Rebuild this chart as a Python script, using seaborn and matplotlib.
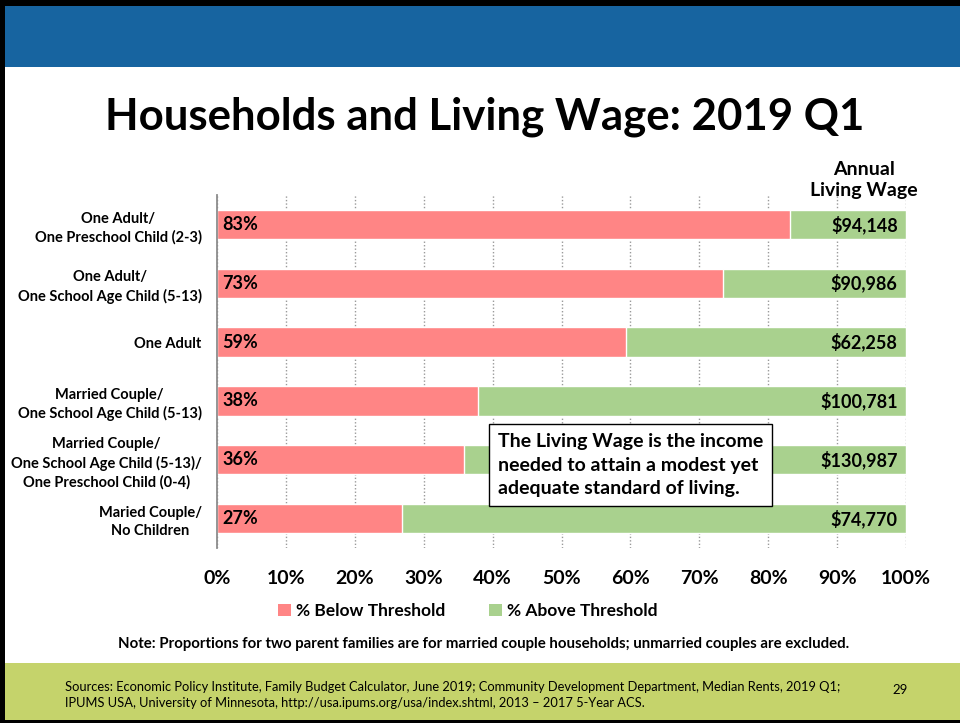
import numpy as np
import pandas as pd
import seaborn as sns
import matplotlib.pyplot as plt
from matplotlib.patches import Rectangle, Patch

# data
categories = [
    "One Adult/\nOne Preschool Child (2-3)",
    "One Adult/\nOne School Age Child (5-13)",
    "One Adult",
    "Married Couple/\nOne School Age Child (5-13)",
    "Married Couple/\nOne School Age Child (5-13)/\nOne Preschool Child (0-4)",
    "Maried Couple/\nNo Children",
]
below_pct = [83.2, 73.4, 59.3, 37.9, 35.8, 26.8]
below_labels = ["83%", "73%", "59%", "38%", "36%", "27%"]
total_pct = [100, 100, 100, 100, 100, 100]
living_wage = ["$94,148", "$90,986", "$62,258", "$100,781", "$130,987", "$74,770"]
x_ticks = [0, 10, 20, 30, 40, 50, 60, 70, 80, 90, 100]

RED = "#FF8585"
GREEN = "#A9D18E"
BLUE = "#1764A0"
OLIVE = "#C5D36B"

df = pd.DataFrame({"category": categories, "below": below_pct, "total": total_pct})

sns.set_theme(style="white")
plt.rcParams["font.family"] = ["Lato", "DejaVu Sans"]
plt.rcParams["font.weight"] = "bold"
plt.rcParams["text.color"] = "black"
plt.rcParams["xtick.color"] = "black"
plt.rcParams["ytick.color"] = "black"

fig = plt.figure(figsize=(9.6, 7.23), dpi=100)
W, H = 960, 723

# slide frame, header band and footer band
fig.patches.append(Rectangle((0, 1 - 67 / H), 1, 61 / H, transform=fig.transFigure,
                             facecolor=BLUE, edgecolor="none", zorder=0))
fig.patches.append(Rectangle((0, 3 / H), 1, 57 / H, transform=fig.transFigure,
                             facecolor=OLIVE, edgecolor="none", zorder=0))
fig.patches.append(Rectangle((0, 1 - 6 / H), 1, 6 / H, transform=fig.transFigure,
                             facecolor="black", edgecolor="none", zorder=1))
fig.patches.append(Rectangle((0, 0), 5 / W, 1, transform=fig.transFigure,
                             facecolor="black", edgecolor="none", zorder=1))
fig.patches.append(Rectangle((0, 0), 1, 3 / H, transform=fig.transFigure,
                             facecolor="black", edgecolor="none", zorder=1))

ax = fig.add_axes([217 / W, 1 - 548 / H, 689 / W, 353 / H])

sns.barplot(data=df, x="total", y="category", color=GREEN, saturation=1,
            width=0.5, errorbar=None, orient="h", ax=ax, zorder=2)
sns.barplot(data=df, x="below", y="category", color=RED, saturation=1,
            width=0.5, errorbar=None, orient="h", ax=ax, zorder=3)

ax.set_xlim(0, 100)
ax.set_xticks(x_ticks)
ax.set_xticklabels([f"{t}%" for t in x_ticks], fontsize=14, fontweight="bold")
ax.set_xlabel("")
ax.set_ylabel("")
for lab in ax.get_yticklabels():
    lab.set_multialignment("center")
    lab.set_fontsize(10.5)
    lab.set_fontweight("bold")
    lab.set_linespacing(1.35)
ax.tick_params(axis="x", length=0, pad=16, colors="black")
ax.tick_params(axis="y", length=0, pad=11, colors="black")

ax.set_axisbelow(True)
ax.xaxis.grid(True, linestyle=(0, (1, 1.5)), color="#9a9a9a", linewidth=1.0, zorder=0)
for s in ["top", "right", "bottom"]:
    ax.spines[s].set_visible(False)
ax.spines["left"].set_color("#8c8c8c")
ax.spines["left"].set_linewidth(1.3)
ax.spines["left"].set_zorder(4)

for i in range(len(categories)):
    ax.text(0.8, i, below_labels[i], va="center", ha="left", fontsize=13,
            fontweight="bold", color="black", zorder=5)
    ax.text(98.8, i, living_wage[i], va="center", ha="right", fontsize=13,
            fontweight="bold", color="black", zorder=5)

# title and annotations
fig.text(485 / W, 1 - 117 / H, "Households and Living Wage: 2019 Q1",
         ha="center", va="center", fontsize=31.5, fontweight="bold")
fig.text(864 / W, 1 - 180 / H, "Annual\nLiving Wage", ha="center", va="center",
         fontsize=14, fontweight="bold", linespacing=1.25)
fig.text(498 / W, 1 - 465 / H,
         "The Living Wage is the income\nneeded to attain a modest yet\nadequate standard of living.",
         ha="left", va="center", fontsize=14, fontweight="bold", linespacing=1.45,
         zorder=6,
         bbox=dict(boxstyle="square,pad=0.45", facecolor="white", edgecolor="black",
                   linewidth=1.0))

handles = [Patch(facecolor=RED, edgecolor="none", label="% Below Threshold"),
           Patch(facecolor=GREEN, edgecolor="none", label="% Above Threshold")]
fig.legend(handles=handles, loc="center", bbox_to_anchor=(468 / W, 1 - 611 / H),
           ncol=2, frameon=False, handlelength=0.75, handleheight=0.75,
           handletextpad=0.3, columnspacing=2.5,
           prop={"size": 12.5, "weight": "bold"})

fig.text(484 / W, 1 - 644 / H,
         "Note: Proportions for two parent families are for married couple households; "
         "unmarried couples are excluded.",
         ha="center", va="center", fontsize=10.8, fontweight="bold")

fig.text(65 / W, 1 - 695 / H,
         "Sources: Economic Policy Institute, Family Budget Calculator, June 2019; "
         "Community Development Department, Median Rents, 2019 Q1;\n"
         "IPUMS USA, University of Minnesota, http://usa.ipums.org/usa/index.shtml, "
         "2013 \u2013 2017 5-Year ACS.",
         ha="left", va="center", fontsize=9.3, fontweight="normal", linespacing=1.45)
fig.text(900 / W, 1 - 690 / H, "29", ha="center", va="center",
         fontsize=9.5, fontweight="normal")

fig.savefig("out.png", dpi=100)
